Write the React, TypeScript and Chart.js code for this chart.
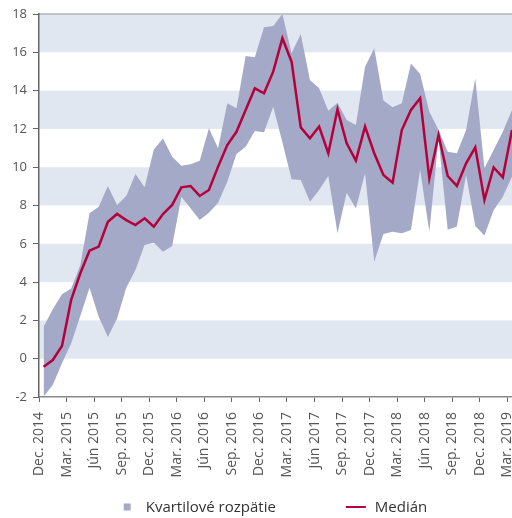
import React, { useEffect, useRef } from "react";
import { Chart, registerables } from "chart.js";

Chart.register(...registerables);

// ---- Data ----
const monthNames = ["Dec.", "Jan.", "Feb.", "Mar.", "Apr.", "Máj", "Jún", "Júl", "Aug.", "Sep.", "Okt.", "Nov."];
const months: string[] = [];
for (let i = 0; i < 52; i++) {
  const year = 2014 + Math.floor((i + 11) / 12);
  months.push(`${monthNames[i % 12]} ${year}`);
}

const tickLabels = [
  "Dec. 2014", "Mar. 2015", "Jún 2015", "Sep. 2015", "Dec. 2015", "Mar. 2016",
  "Jún 2016", "Sep. 2016", "Dec. 2016", "Mar. 2017", "Jún 2017", "Sep. 2017",
  "Dec. 2017", "Mar. 2018", "Jún 2018", "Sep. 2018", "Dec. 2018", "Mar. 2019",
];

const medianValues = [
  -0.42, -0.07, 0.66, 3.07, 4.46, 5.64, 5.85, 7.15, 7.56, 7.24, 6.98, 7.33, 6.89,
  7.55, 8.03, 8.95, 9.02, 8.5, 8.81, 10.03, 11.16, 11.85, 12.99, 14.12, 13.86, 14.99,
  16.73, 15.51, 12.08, 11.51, 12.12, 10.73, 13.02, 11.25, 10.34, 12.12, 10.73, 9.59,
  9.19, 11.94, 12.99, 13.6, 9.42, 11.68, 9.54, 9.02, 10.2, 11.04, 8.29, 9.99, 9.47, 11.94,
];

const q3Values = [
  1.67, 2.58, 3.36, 3.67, 4.89, 7.59, 7.94, 9.02, 8.03, 8.5, 9.64, 8.95, 10.93,
  11.5, 10.55, 10.08, 10.15, 10.34, 12.03, 10.99, 13.34, 13.08, 15.81, 15.74, 17.31, 17.37,
  18.0, 15.95, 16.96, 14.55, 14.12, 12.95, 13.37, 12.46, 12.2, 15.25, 16.21, 13.48,
  13.13, 13.34, 15.42, 14.87, 12.9, 11.94, 10.81, 10.73, 11.94, 14.64, 9.94, 10.9, 11.85, 12.99,
];

const q1Values = [
  -1.98, -1.37, -0.24, 0.8, 2.23, 3.7, 2.19, 1.13, 2.1, 3.7, 4.63, 5.94, 6.06,
  5.59, 5.88, 8.46, 7.85, 7.24, 7.62, 8.15, 9.24, 10.69, 11.07, 11.89, 11.82, 13.16,
  11.3, 9.37, 9.33, 8.2, 8.81, 9.54, 6.55, 8.67, 7.85, 9.68, 5.07, 6.51,
  6.63, 6.55, 6.72, 9.85, 6.63, 11.5, 6.74, 6.9, 9.59, 6.93, 6.43, 7.75, 8.46, 9.5,
];

const LEGEND_BAND = "Kvartilové rozpätie";
const LEGEND_MEDIAN = "Medián";

// ---- Styles ----
const FONT = '"Open Sans", sans-serif';
const BAND_BG = "#e1e7f1";
const IQR_FILL = "#a5a9c8";
const MEDIAN_COLOR = "#b4003c";
const TICK_COLOR = "#555555";

export default function App() {
  const ref = useRef<HTMLCanvasElement>(null);

  useEffect(() => {
    document.body.style.margin = "0";
    const canvas = ref.current;
    if (!canvas) return;
    const toPoints = (arr: number[]) => arr.map((y, i) => ({ x: i + 0.5, y }));

    const bandPlugin = {
      id: "bands",
      beforeDraw(chart: any) {
        const { ctx, chartArea: a, scales } = chart;
        const y = scales.y;
        ctx.save();
        ctx.fillStyle = BAND_BG;
        for (let v = -2; v < 18; v += 2) {
          if (((v + 2) / 2) % 2 === 1) {
            const top = y.getPixelForValue(v + 2);
            const bot = y.getPixelForValue(v);
            ctx.fillRect(a.left, top, a.right - a.left, bot - top);
          }
        }
        ctx.strokeStyle = "#b5b5b5";
        ctx.lineWidth = 1.5;
        ctx.beginPath();
        ctx.moveTo(a.left, a.top);
        ctx.lineTo(a.right, a.top);
        ctx.stroke();
        ctx.restore();
      },
    };

    const legendPlugin = {
      id: "customLegend",
      afterDraw(chart: any) {
        const { ctx, chartArea: a } = chart;
        ctx.save();
        ctx.font = `15px ${FONT}`;
        ctx.textBaseline = "middle";
        ctx.textAlign = "left";
        const w1 = ctx.measureText(LEGEND_BAND).width;
        const w2 = ctx.measureText(LEGEND_MEDIAN).width;
        const sq = 7, gap1 = 15, gapItems = 70, lineW = 20, gap2 = 9;
        const total = sq + gap1 + w1 + gapItems + lineW + gap2 + w2;
        let x = (a.left + a.right) / 2 - total / 2;
        const cy = chart.height - 10;
        ctx.fillStyle = IQR_FILL;
        ctx.fillRect(x, cy - sq / 2 - 1, sq, sq);
        x += sq + gap1;
        ctx.fillStyle = "#333333";
        ctx.fillText(LEGEND_BAND, x, cy);
        x += w1 + gapItems;
        ctx.strokeStyle = MEDIAN_COLOR;
        ctx.lineWidth = 2;
        ctx.beginPath();
        ctx.moveTo(x, cy - 1);
        ctx.lineTo(x + lineW, cy - 1);
        ctx.stroke();
        x += lineW + gap2;
        ctx.fillText(LEGEND_MEDIAN, x, cy);
        ctx.restore();
      },
    };

    const chart = new Chart(canvas, {
      type: "line",
      data: {
        labels: months,
        datasets: [
          {
            label: LEGEND_MEDIAN,
            data: toPoints(medianValues),
            borderColor: MEDIAN_COLOR,
            borderWidth: 2.5,
            pointRadius: 0,
            fill: false,
            tension: 0,
            order: 0,
          },
          {
            label: "Q1",
            data: toPoints(q1Values),
            borderColor: "rgba(0,0,0,0)",
            borderWidth: 0,
            pointRadius: 0,
            fill: false,
            order: 1,
          },
          {
            label: LEGEND_BAND,
            data: toPoints(q3Values),
            borderColor: "rgba(0,0,0,0)",
            backgroundColor: IQR_FILL,
            borderWidth: 0,
            pointRadius: 0,
            fill: 1,
            order: 1,
          },
        ],
      } as any,
      options: {
        animation: false,
        responsive: false,
        maintainAspectRatio: false,
        layout: { padding: { top: 14, left: 0, right: 0, bottom: 0 } },
        plugins: {
          legend: { display: false },
          tooltip: { enabled: false },
        },
        scales: {
          x: {
            type: "linear",
            min: 0,
            max: 51.5,
            afterBuildTicks: (s: any) => {
              s.ticks = tickLabels.map((_, k) => ({ value: k * 3 }));
            },
            afterFit: (s: any) => {
              s.height = 121;
              s.paddingLeft = 0;
              s.paddingRight = 0;
            },
            ticks: {
              autoSkip: false,
              minRotation: 90,
              maxRotation: 90,
              padding: 10,
              color: TICK_COLOR,
              font: { family: FONT, size: 14 },
              callback: (_v: any, i: number) => tickLabels[i],
            },
            grid: { drawOnChartArea: false, drawTicks: true, tickLength: 5, color: "#666666", lineWidth: 1 },
            border: { display: true, color: "#888888", width: 1.5 },
          },
          y: {
            min: -2,
            max: 18,
            afterFit: (s: any) => {
              s.width = 39;
              s.paddingTop = 0;
              s.paddingBottom = 0;
            },
            ticks: {
              stepSize: 2,
              padding: 6,
              color: TICK_COLOR,
              font: { family: FONT, size: 13 },
            },
            grid: { drawOnChartArea: false, drawTicks: true, tickLength: 6, color: "#666666", lineWidth: 1 },
            border: { display: true, color: "#666666", width: 1.5 },
          },
        },
      } as any,
      plugins: [bandPlugin, legendPlugin],
    });

    return () => chart.destroy();
  }, []);

  return (
    <div style={{ width: 512, height: 518 }}>
      <canvas ref={ref} width={512} height={518} style={{ display: "block" }} />
    </div>
  );
}
